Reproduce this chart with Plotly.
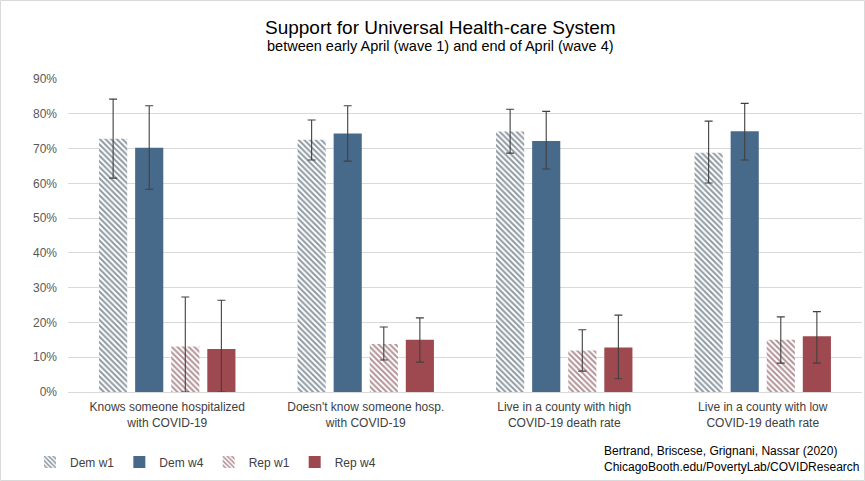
import plotly.graph_objects as go

categories = ["Knows someone hospitalized<br>with COVID-19",
              "Doesn't know someone hosp.<br>with COVID-19",
              "Live in a county with high<br>COVID-19 death rate",
              "Live in a county with low<br>COVID-19 death rate"]

series_names = ["Dem w1", "Dem w4", "Rep w1", "Rep w4"]

dem_w1 = [0.728, 0.725, 0.749, 0.688]
dem_w4 = [0.702, 0.743, 0.722, 0.750]
rep_w1 = [0.131, 0.138, 0.119, 0.150]
rep_w4 = [0.124, 0.150, 0.128, 0.160]

dem_w1_hi = [0.842, 0.782, 0.813, 0.779]
dem_w1_lo = [0.615, 0.667, 0.687, 0.601]
dem_w4_hi = [0.823, 0.823, 0.807, 0.830]
dem_w4_lo = [0.583, 0.664, 0.641, 0.667]
rep_w1_hi = [0.273, 0.187, 0.179, 0.216]
rep_w1_lo = [0.000, 0.092, 0.060, 0.083]
rep_w4_hi = [0.264, 0.213, 0.221, 0.231]
rep_w4_lo = [0.000, 0.086, 0.038, 0.083]

y_ticks = [0, 0.1, 0.2, 0.3, 0.4, 0.5, 0.6, 0.7, 0.8, 0.9]
y_tick_labels = ["0%", "10%", "20%", "30%", "40%", "50%", "60%", "70%", "80%", "90%"]

DEM = "#476a8b"
REP = "#9e4950"
DEM_H = "#1f3345"
REP_H = "#642630"
FONT = "Liberation Sans, Arial, sans-serif"

fig = go.Figure()

def add(name, vals, hi, lo, color, hatch):
    err = dict(type="data", symmetric=False,
               array=[h - v for h, v in zip(hi, vals)],
               arrayminus=[v - l for v, l in zip(vals, lo)],
               color="#404040", thickness=1.1, width=4)
    if hatch:
        marker = dict(color="white",
                      pattern=dict(shape="\\", fgcolor=color, bgcolor="white",
                                   size=4, solidity=0.5, fillmode="overlay"))
    else:
        marker = dict(color=color)
    fig.add_trace(go.Bar(x=categories, y=vals, name=name, marker=marker,
                         marker_line_width=0, error_y=err))

add(series_names[0], dem_w1, dem_w1_hi, dem_w1_lo, DEM_H, True)
add(series_names[1], dem_w4, dem_w4_hi, dem_w4_lo, DEM, False)
add(series_names[2], rep_w1, rep_w1_hi, rep_w1_lo, REP_H, True)
add(series_names[3], rep_w4, rep_w4_hi, rep_w4_lo, REP, False)

L, R, T, B = 68, 3, 79, 89
W, H = 865, 481
pw, ph = W - L - R, H - T - B

def px(x):
    return (x - L) / pw

def py(y):
    return (H - B - y) / ph

fig.update_layout(
    width=W, height=H,
    margin=dict(l=L, r=R, t=T, b=B, pad=0, autoexpand=False),
    paper_bgcolor="white", plot_bgcolor="white",
    font=dict(family=FONT, size=12, color="#404040"),
    barmode="group", bargap=0.273, bargroupgap=0.22,
    showlegend=True,
    legend=dict(orientation="h", x=px(30), y=py(462), xanchor="left", yanchor="middle",
                font=dict(size=12, color="#404040"), itemwidth=30,
                traceorder="normal", bgcolor="rgba(0,0,0,0)"),
    yaxis=dict(range=[0, 0.9], tickvals=y_ticks, ticktext=y_tick_labels,
               showgrid=True, gridcolor="#d9d9d9", gridwidth=1, zeroline=False,
               showline=False, ticks="", ticklabelstandoff=10, automargin=False,
               tickfont=dict(size=12, color="#595959")),
    xaxis=dict(showline=True, linecolor="#d9d9d9", linewidth=1, ticks="", automargin=False,
               tickfont=dict(size=12, color="#404040"), ticklabelstandoff=4),
    annotations=[
        dict(text="Support for Universal Health-care System", xref="paper", yref="paper",
             x=px(440), y=py(27), xanchor="center", yanchor="middle", showarrow=False,
             font=dict(size=19, color="#000000", family=FONT)),
        dict(text="between early April (wave 1) and end of April (wave 4)", xref="paper", yref="paper",
             x=px(440), y=py(46), xanchor="center", yanchor="middle", showarrow=False,
             font=dict(size=14.5, color="#000000", family=FONT)),
        dict(text="Bertrand, Briscese, Grignani, Nassar (2020)<br>ChicagoBooth.edu/PovertyLab/COVIDResearch",
             xref="paper", yref="paper", x=px(861), y=py(459), xanchor="right", yanchor="middle",
             align="left", showarrow=False, font=dict(size=12, color="#000000", family=FONT)),
    ],
    shapes=[dict(type="rect", xref="paper", yref="paper",
                 x0=px(0.5), x1=px(864.5), y0=py(480.5), y1=py(0.5),
                 line=dict(color="#d9d9d9", width=1), fillcolor="rgba(0,0,0,0)", layer="below")],
)

fig.write_html("out.html", config={"displayModeBar": False},
               post_script="document.body.style.margin='0';document.body.style.overflow='hidden';")
